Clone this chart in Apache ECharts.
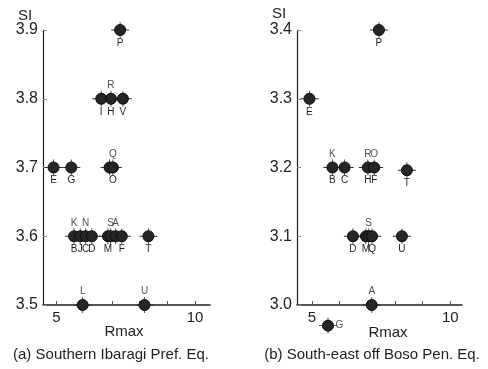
<!DOCTYPE html>
<html>
<head>
<meta charset="utf-8">
<script src="https://cdn.jsdelivr.net/npm/echarts@6/dist/echarts.min.js"></script>
<style>
  html, body { margin: 0; padding: 0; background: #fff; }
  #chart { width: 488px; height: 369px; }
</style>
</head>
<body>
<div id="chart"></div>
<script>
// (a) Southern Ibaragi Pref. Eq.
const leftX = [7.30, 6.62, 6.97, 7.40, 4.90, 5.54, 6.92, 7.04, 5.64, 5.86, 6.06, 6.28, 6.86, 6.96, 7.14, 7.36, 8.32, 5.95, 8.18];
const leftY = [3.9, 3.8, 3.8, 3.8, 3.7, 3.7, 3.7, 3.7, 3.6, 3.6, 3.6, 3.6, 3.6, 3.6, 3.6, 3.6, 3.6, 3.5, 3.5];
const leftBelow = ['P', 'I', 'H', 'V', 'E', 'G', '', 'O', 'B', 'J', 'C', 'D', 'M', '', '', 'F', 'T', '', ''];
const leftAbove = ['', '', 'R', '', '', '', '', 'Q', 'K', '', 'N', '', '', 'S', 'A', '', '', 'L', 'U'];

// (b) South-east off Boso Pen. Eq.
const rightX = [7.42, 4.91, 5.74, 6.18, 7.02, 7.25, 8.43, 6.48, 6.95, 7.05, 7.17, 8.25, 7.16, 5.58];
const rightY = [3.4, 3.3, 3.2, 3.2, 3.2, 3.2, 3.196, 3.1, 3.1, 3.1, 3.1, 3.1, 3.0, 2.97];
const rightBelow = ['P', 'E', 'B', 'C', 'H', 'F', 'T', 'D', 'M', '', 'Q', 'U', '', ''];
const rightAbove = ['', '', 'K', '', 'R', 'O', '', '', '', 'S', '', '', 'A', ''];
const rightSide = ['', '', '', '', '', '', '', '', '', '', '', '', '', 'G'];

const xTicks = [5, 6, 7, 8, 9, 10];
const xTickLabels = [5, 10];
const leftYRange = [3.5, 3.9];
const rightYRange = [3.0, 3.4];

const FONT = 'Liberation Sans';
const INK = '#1e1e1e';

function pts(xs, ys, txt) {
    return xs.map((x, i) => [x, ys[i], txt[i]]);
}

function xAxisFor(idx, min, max) {
    return {
        gridIndex: idx,
        type: 'value',
        min: min,
        max: max,
        axisLine: { show: true, onZero: false, lineStyle: { color: INK, width: 1.5 } },
        axisTick: { show: true, inside: true, length: 4, customValues: xTicks, lineStyle: { color: '#555' } },
        axisLabel: { customValues: xTickLabels, fontSize: 15, margin: 5, color: INK, fontFamily: FONT },
        splitLine: { show: false }
    };
}

function yAxisFor(idx, range) {
    return {
        gridIndex: idx,
        type: 'value',
        min: range[0],
        max: range[1],
        interval: 0.1,
        axisLine: { show: true, onZero: false, lineStyle: { color: INK, width: 1.2 } },
        axisTick: { show: true, inside: true, length: 4, lineStyle: { color: '#888' } },
        axisLabel: { fontSize: 16, margin: 5, color: INK, fontFamily: FONT, formatter: v => v.toFixed(1) },
        splitLine: { show: false }
    };
}

const labelStyle = { color: INK, fontSize: 10, fontFamily: FONT };

function panelSeries(idx, xs, ys, below, above, side) {
    const list = [
        {
            // little crosshair spikes behind each dot
            type: 'scatter',
            xAxisIndex: idx, yAxisIndex: idx,
            data: pts(xs, ys, below),
            symbol: 'path://M0,7.6h18v0.8h-18z M8.6,0h0.8v16h-0.8z',
            symbolSize: [18, 16],
            itemStyle: { color: '#333', opacity: 1 },
            clip: false, silent: true, z: 1
        },
        {
            type: 'scatter',
            xAxisIndex: idx, yAxisIndex: idx,
            data: pts(xs, ys, below),
            symbolSize: 11,
            itemStyle: { color: '#262626', borderColor: '#0d0d0d', borderWidth: 1, opacity: 1 },
            label: { show: true, position: 'bottom', distance: 2, formatter: p => p.value[2], ...labelStyle },
            clip: false, z: 3
        },
        {
            type: 'scatter',
            xAxisIndex: idx, yAxisIndex: idx,
            data: pts(xs, ys, above),
            symbolSize: 11,
            itemStyle: { color: 'rgba(0,0,0,0)' },
            label: { show: true, position: 'top', distance: 3, formatter: p => p.value[2], ...labelStyle },
            clip: false, silent: true, z: 4
        }
    ];
    if (side) {
        list.push({
            type: 'scatter',
            xAxisIndex: idx, yAxisIndex: idx,
            data: pts(xs, ys, side),
            symbolSize: 11,
            itemStyle: { color: 'rgba(0,0,0,0)' },
            label: { show: true, position: 'right', distance: 2, formatter: p => p.value[2], ...labelStyle },
            clip: false, silent: true, z: 4
        });
    }
    return list;
}

function txt(x, y, s, size) {
    return {
        type: 'text', x: x, y: y,
        style: { text: s, fill: INK, font: size + 'px "' + FONT + '"', textAlign: 'center', textVerticalAlign: 'middle' }
    };
}

const chart = echarts.init(document.getElementById('chart'), null, { renderer: 'canvas' });

const option = {
    backgroundColor: '#fff',
    animation: false,
    grid: [
        { left: 43, top: 30, width: 167, height: 275 },
        { left: 297, top: 30, width: 165, height: 275 }
    ],
    xAxis: [xAxisFor(0, 4.52, 10.54), xAxisFor(1, 4.46, 10.42)],
    yAxis: [yAxisFor(0, leftYRange), yAxisFor(1, rightYRange)],
    series: [
        ...panelSeries(0, leftX, leftY, leftBelow, leftAbove, null),
        ...panelSeries(1, rightX, rightY, rightBelow, rightAbove, rightSide)
    ],
    graphic: [
        txt(25, 16, 'SI', 15),
        txt(279, 14, 'SI', 15),
        txt(124, 332, 'Rmax', 15),
        txt(388, 333, 'Rmax', 15),
        txt(111, 355, '(a) Southern Ibaragi Pref. Eq.', 15),
        txt(372, 355, '(b) South-east off Boso Pen. Eq.', 15)
    ]
};

chart.setOption(option);
</script>
</body>
</html>
